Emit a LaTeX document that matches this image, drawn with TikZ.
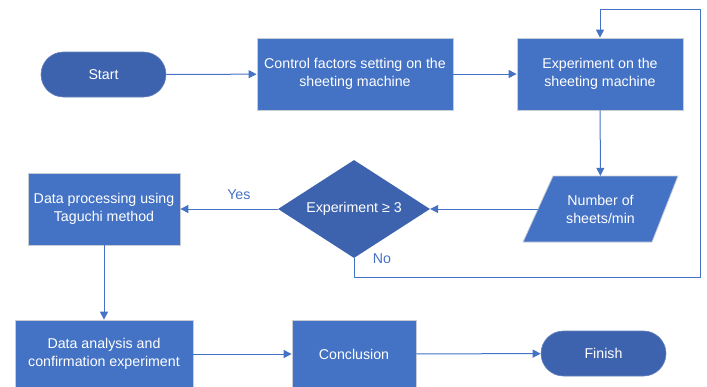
\documentclass[tikz,border=0pt]{standalone}
\usepackage{fontspec}
\setmainfont{Liberation Sans}
\usetikzlibrary{shapes.geometric,arrows.meta}
\definecolor{boxblue}{HTML}{4472C4}
\definecolor{darkblue}{HTML}{3D63AE}
\definecolor{edgegray}{HTML}{C8CCD4}
\tikzset{
  every node/.style={font=\fontsize{14.2}{18}\selectfont, text=white, align=center, inner sep=0pt},
  procbox/.style={rectangle, fill=boxblue, draw=edgegray, line width=0.8pt},
  termbox/.style={rectangle, rounded corners=22.5pt, fill=darkblue, draw=darkblue!80!white, line width=0.6pt, minimum width=125pt, minimum height=45pt},
  decbox/.style={diamond, fill=darkblue, minimum width=152pt, minimum height=98pt, aspect=1.55},
  conn/.style={draw=boxblue, line width=1pt, -{Triangle[length=8pt,width=8pt]}},
  lbl/.style={text=boxblue}
}
\begin{document}
\begin{tikzpicture}[x=1pt,y=-1pt]
\useasboundingbox (0,0) rectangle (707,386);
\node[termbox] (start) at (103.5,74.5) {Start};
\node[procbox, minimum width=196pt, minimum height=72pt] (ctrl) at (355,74) {Control factors setting on the\\sheeting machine};
\node[procbox, minimum width=166pt, minimum height=72pt] (exp) at (600,74) {Experiment on the\\sheeting machine};
\filldraw[fill=boxblue, draw=edgegray, line width=0.8pt] (553,176) -- (678,176) -- (652,242) -- (523,242) -- cycle;
\node[minimum width=100pt, minimum height=66pt] (num) at (600.5,209) {Number of\\sheets/min};
\coordinate (numw) at (538,209);
\node[decbox] (dec) at (354,209) {Experiment ≥ 3};
\node[procbox, minimum width=152pt, minimum height=72pt] (dp) at (104,209) {Data processing using\\Taguchi method};
\node[procbox, minimum width=178pt, minimum height=68pt] (da) at (104,354) {Data analysis and\\confirmation experiment};
\node[procbox, minimum width=124pt, minimum height=68pt] (con) at (354,354) {Conclusion};
\node[termbox] (fin) at (603.5,353.5) {Finish};
\coordinate (nob) at (354,277);
\coordinate (nor) at (700,277);
\coordinate (ntr) at (700,9);
\coordinate (ntl) at (600,9);
\draw[conn] (start) -- (ctrl);
\draw[conn] (ctrl) -- (exp);
\draw[conn] (exp) -- (num);
\draw[conn] (numw) -- (dec.east);
\draw[conn] (dec.west) -- node[lbl, above=9pt, pos=0.4] (yes) {Yes} (dp.east);
\draw[conn] (dec.south) -- (nob) -- (nor) -- (ntr) -- (ntl) -- (exp.north);
\node[lbl] (no) at (382,259) {No};
\draw[conn] (dp) -- (da);
\draw[conn] (da) -- (con);
\draw[conn] (con) -- (fin);
\end{tikzpicture}
\end{document}
